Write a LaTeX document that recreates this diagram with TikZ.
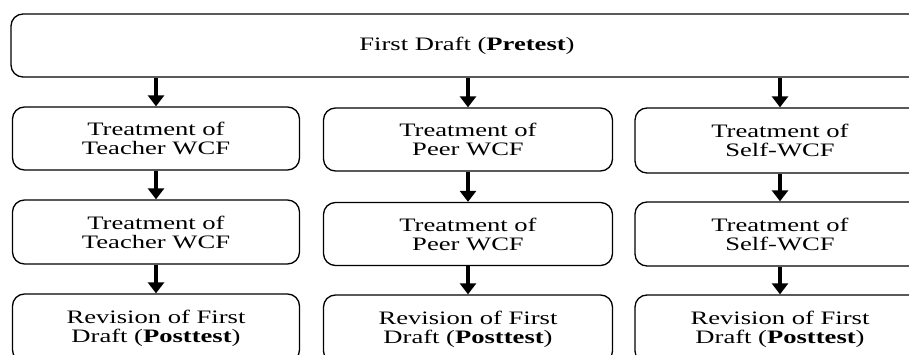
\documentclass[tikz,border=0pt]{standalone}
\usepackage{fontspec}
\setmainfont{Liberation Serif}[FakeStretch=1.4]
\usetikzlibrary{arrows.meta}
\begin{document}
\begin{tikzpicture}[x=1pt,y=-1pt,
  boxstyle/.style={draw=black, line width=1.3pt, rounded corners=12pt, align=center,
    font=\fontsize{19}{19}\selectfont, inner sep=0pt},
  arr/.style={line width=3.5pt, -{Triangle[width=16pt,length=11pt]}}]
\useasboundingbox (0,0) rectangle (909,355);
\begin{scope}
\clip (0,0) rectangle (909,355);
\node[boxstyle, minimum width=912pt, minimum height=63pt] (top) at (467,45.5) {First Draft (\textbf{Pretest})};
% left column
\node[boxstyle, minimum width=287pt, minimum height=63pt] (a1) at (156,138.5) {Treatment of\\Teacher WCF};
\node[boxstyle, minimum width=287pt, minimum height=64pt] (a2) at (156,232) {Treatment of\\Teacher WCF};
\node[boxstyle, minimum width=287pt, minimum height=68pt] (a3) at (156,328) {Revision of First\\Draft (\textbf{Posttest})};
% middle column
\node[boxstyle, minimum width=289pt, minimum height=63pt] (b1) at (468,139.5) {Treatment of\\Peer WCF};
\node[boxstyle, minimum width=289pt, minimum height=63pt] (b2) at (468,234) {Treatment of\\Peer WCF};
\node[boxstyle, minimum width=289pt, minimum height=68pt] (b3) at (468,329) {Revision of First\\Draft (\textbf{Posttest})};
% right column
\node[boxstyle, minimum width=290pt, minimum height=65pt] (c1) at (780,140.5) {Treatment of\\Self-WCF};
\node[boxstyle, minimum width=290pt, minimum height=64pt] (c2) at (780,234) {Treatment of\\Self-WCF};
\node[boxstyle, minimum width=290pt, minimum height=68pt] (c3) at (780,329) {Revision of First\\Draft (\textbf{Posttest})};
\end{scope}
% arrows
\draw[arr] (a1.north |- top.south) -- (a1.north);
\draw[arr] (b1.north |- top.south) -- (b1.north);
\draw[arr] (c1.north |- top.south) -- (c1.north);
\draw[arr] (a1.south) -- (a2.north);
\draw[arr] (b1.south) -- (b2.north);
\draw[arr] (c1.south) -- (c2.north);
\draw[arr] (a2.south) -- (a3.north);
\draw[arr] (b2.south) -- (b3.north);
\draw[arr] (c2.south) -- (c3.north);
\end{tikzpicture}
\end{document}
